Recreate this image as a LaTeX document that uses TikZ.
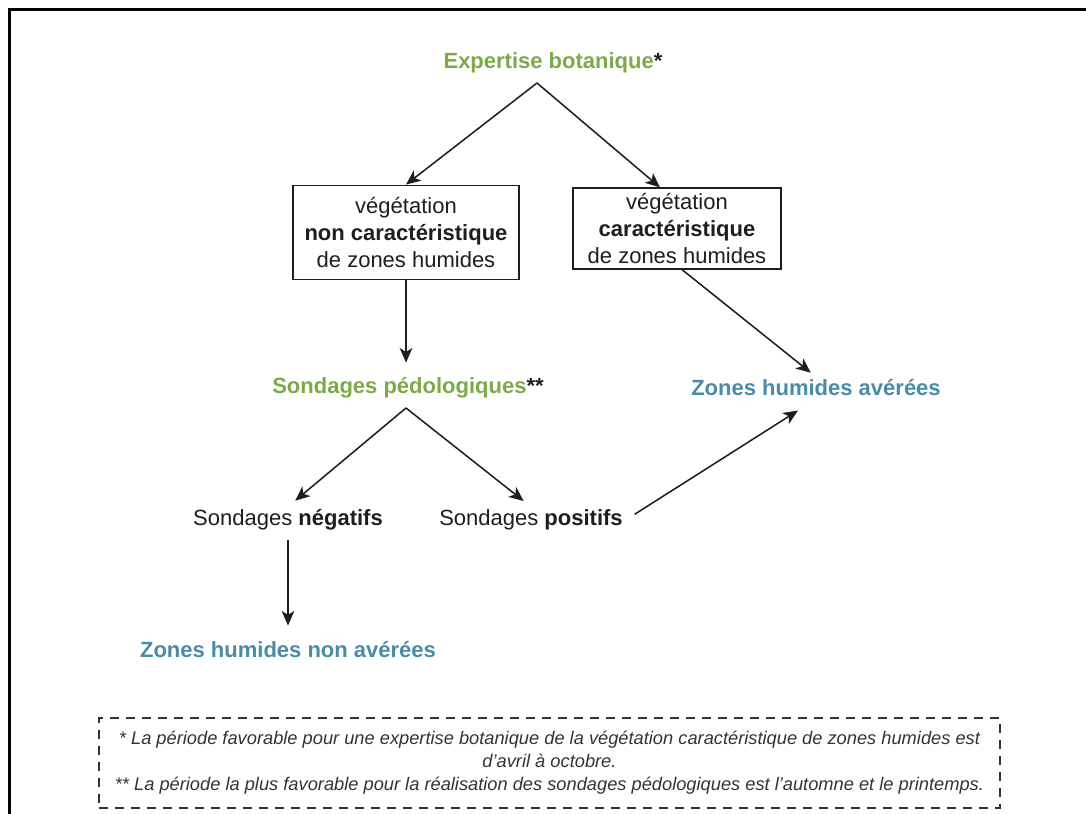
\documentclass[tikz,border=0pt]{standalone}
\usepackage{fontspec}
\setmainfont{Liberation Sans}
\usetikzlibrary{arrows.meta,positioning,calc}
\definecolor{botgreen}{HTML}{7DAA48}
\definecolor{zhblue}{HTML}{4A8CA6}
\definecolor{ink}{HTML}{1E1E1E}
\definecolor{note}{HTML}{333333}

\begin{document}
\begin{tikzpicture}[x=0.75pt,y=-0.75pt,
  txt/.style={font=\fontsize{16.5pt}{20.25pt}\selectfont,text=ink,inner sep=2pt},
  headnode/.style={txt,font=\fontsize{16.5pt}{20.25pt}\selectfont\bfseries,text=botgreen},
  resnode/.style={headnode,text=zhblue},
  vegbox/.style={txt,draw=ink,line width=0.9pt,align=center},
  notebox/.style={draw=note,dashed,dash pattern=on 7pt off 5pt,line width=0.8pt,align=center,
    font=\fontsize{13.7pt}{17.25pt}\selectfont\itshape,text=note},
  arr/.style={-{Stealth[length=11pt,width=9.5pt,inset=3pt]},line width=1.15pt,draw=ink}]
\useasboundingbox (0,0) rectangle (1086,814);
\clip (0,0) rectangle (1086,814);
\draw[line width=2.25pt] (9,9) rectangle (1110,840);
% botanical survey
\node[headnode] (expert) at (553,63) {Expertise botanique\textcolor{ink}{*}};
\node[vegbox,minimum width=169.5pt,minimum height=71pt] (nonveg) at (406,232.5)
  {végétation\\\textbf{non caractéristique}\\de zones humides};
\node[vegbox,minimum width=156pt,minimum height=60.75pt] (veg) at (677,228.5)
  {végétation\\\textbf{caractéristique}\\de zones humides};
\coordinate (fork1) at (537,83);
\draw[arr] (fork1) -- (nonveg.north);
\draw[arr] (fork1) -- ($(veg.north)+(-17,0)$);
% soil survey
\node[headnode] (sonde) at (408,388) {Sondages pédologiques\textcolor{ink}{**}};
\node[resnode] (av) at (816,388) {Zones humides avérées};
\node[txt] (neg) at (288,520) {Sondages \textbf{négatifs}};
\node[txt] (pos) at (531,520) {Sondages \textbf{positifs}};
\node[resnode] (nonav) at (288,650) {Zones humides non avérées};
\draw[arr,shorten >=9pt] (nonveg.south) -- (nonveg.south |- sonde.north);
\draw[arr,shorten >=5pt] ($(veg.south)+(5,0)$) -- (av.north);
\coordinate (fork2) at (406,408);
\draw[arr,shorten >=7pt] (fork2) -- (neg.north);
\draw[arr,shorten >=7pt] (fork2) -- (pos.north);
\draw[arr,shorten <=5pt,shorten >=10pt] (neg.south) -- (neg.south |- nonav.north);
\draw[arr,shorten <=8pt,shorten >=16pt] (pos.east) -- (av.south);
% footnotes
\node[notebox,minimum width=675.75pt,minimum height=67.5pt] (notes) at (549.5,763)
  {* La période favorable pour une expertise botanique de la végétation caractéristique de zones humides est\\
   d'avril à octobre.\\
   ** La période la plus favorable pour la réalisation des sondages pédologiques est l'automne et le printemps.};
\end{tikzpicture}
\end{document}
